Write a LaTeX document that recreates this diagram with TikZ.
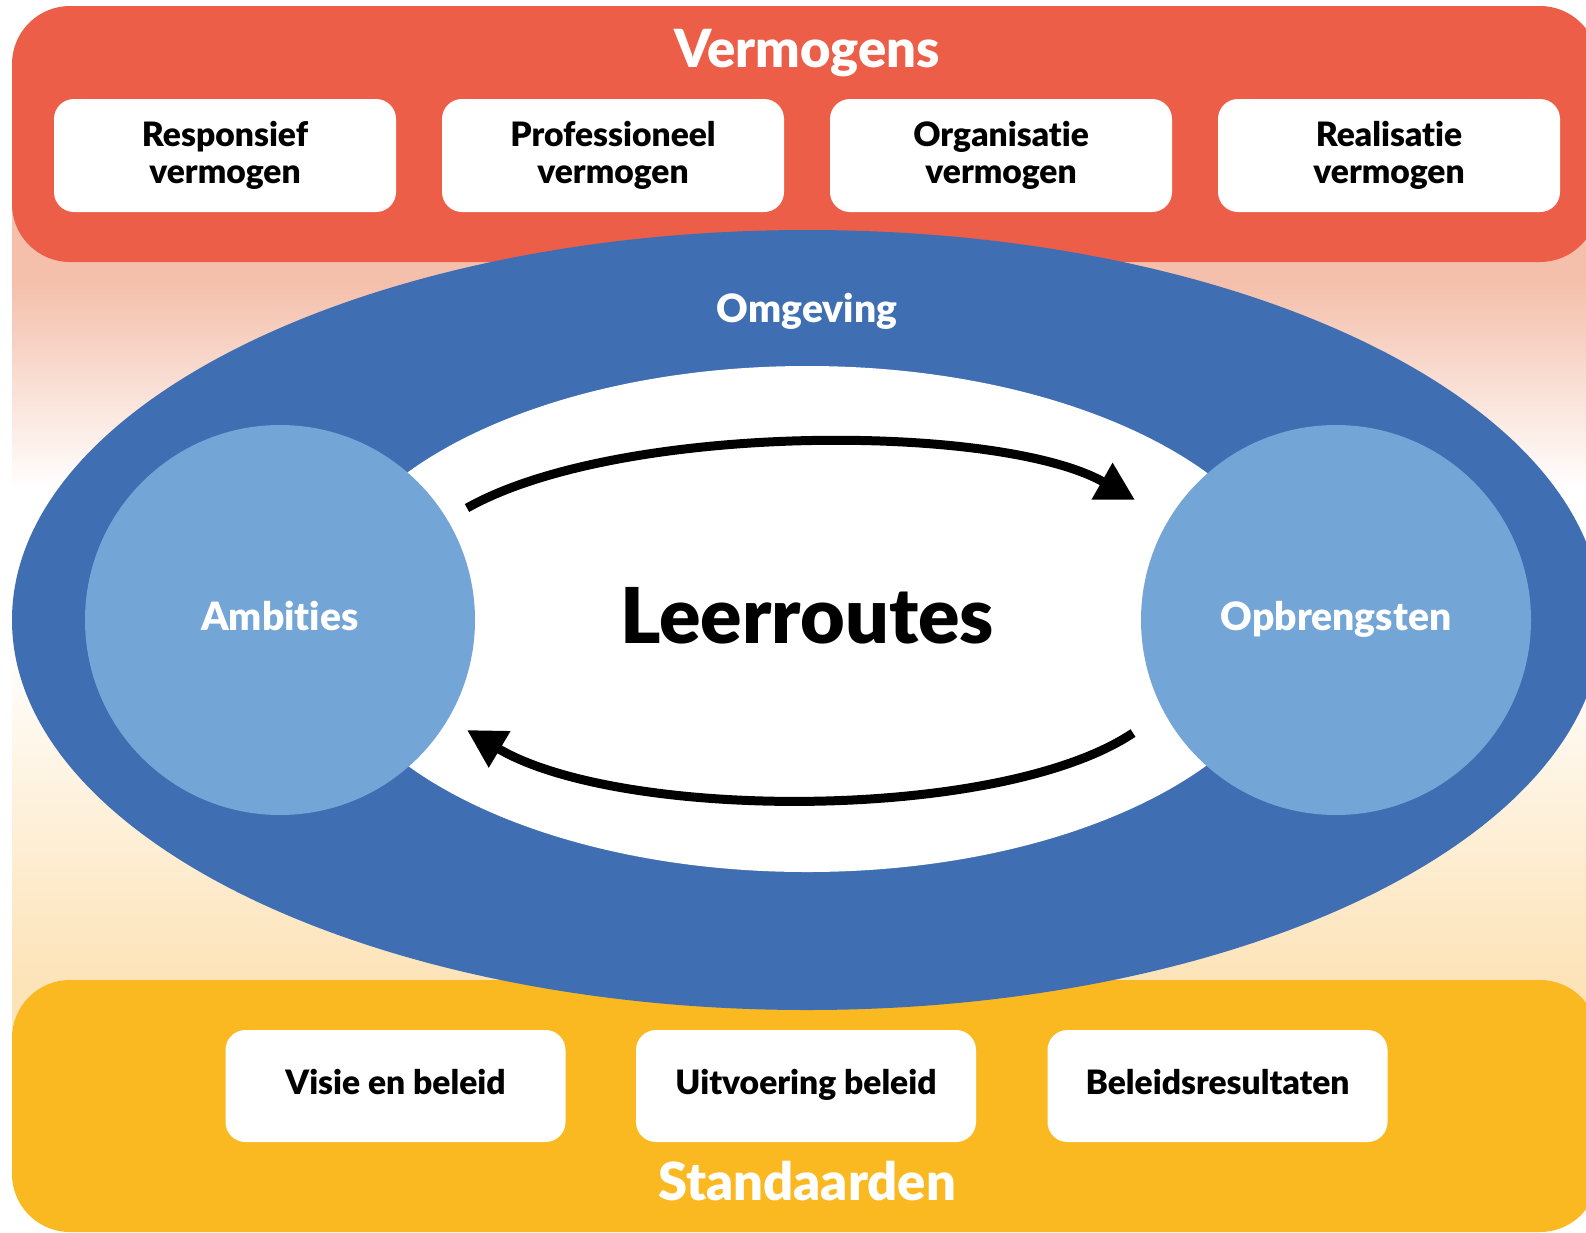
\documentclass[tikz,border=0pt]{standalone}
\usepackage{fontspec}
\setmainfont{Lato}[BoldFont={Lato Black}, Ligatures=NoCommon]
\usetikzlibrary{arrows.meta,shapes.geometric}
\definecolor{vred}{HTML}{ED5E49}
\definecolor{vblue}{HTML}{3F6EB3}
\definecolor{lblue}{HTML}{74A5D7}
\definecolor{vyellow}{HTML}{FBB921}
\definecolor{pinkbg}{HTML}{F4C0AC}
\definecolor{creambg}{HTML}{FDE3B8}
\tikzset{
  band/.style={rounded corners=58pt, inner sep=0pt},
  wbox/.style={fill=white, rounded corners=20pt, minimum width=342pt, minimum height=113pt,
    inner sep=0pt, align=center, font=\bfseries\fontsize{33.6}{37}\selectfont},
  sbox/.style={wbox, minimum width=340pt, minimum height=112pt, text height=16pt, text depth=0pt},
  title/.style={text=white, font=\bfseries\fontsize{52.5}{60}\selectfont, anchor=base, inner sep=0pt},
  circ/.style={circle, fill=lblue, minimum size=390pt, inner sep=0pt, text=white,
    font=\bfseries\fontsize{39}{45}\selectfont, text height=20pt, text depth=0pt},
  flow/.style={line width=9pt, -{Triangle[length=38pt,width=40pt]}},
}
\begin{document}
\begin{tikzpicture}[x=1pt,y=-1pt]
\useasboundingbox (0,0) rectangle (1586,1232);
\fill[white] (0,0) rectangle (1586,1232);
% background gradient
\fill[pinkbg] (12,200) rectangle (1600,285);
\shade[top color=pinkbg, bottom color=white] (12,284) rectangle (1600,490);
\shade[top color=white, bottom color=creambg] (12,640) rectangle (1600,981);
\fill[creambg] (12,980) rectangle (1600,1040);
% bands
\node[band, fill=vred, minimum width=1586pt, minimum height=256pt] (vband) at (805,134) {};
\node[band, fill=vyellow, minimum width=1586pt, minimum height=252pt] (sband) at (805,1106) {};
% top boxes
\node[wbox] (b1) at (225,155.5) {Responsief\\vermogen};
\node[wbox] (b2) at (613,155.5) {Professioneel\\vermogen};
\node[wbox] (b3) at (1001,155.5) {Organisatie\\vermogen};
\node[wbox] (b4) at (1389,155.5) {Realisatie\\vermogen};
% bottom boxes
\node[sbox] (s1) at (395.5,1086) {Visie en beleid};
\node[sbox] (s2) at (806,1086) {Uitvoering beleid};
\node[sbox] (s3) at (1217.5,1086) {Beleidsresultaten};
% titles
\node[title] (tverm) at (807,67) {Vermogens};
\node[title] (tstand) at (807,1200) {Standaarden};
% ellipses
\node[ellipse, fill=vblue, minimum width=1590pt, minimum height=780pt, inner sep=0pt] (omg) at (807,620) {};
\node[ellipse, fill=white, minimum width=980pt, minimum height=506pt, inner sep=0pt] (inner) at (807,619) {};
\node[text=white, font=\bfseries\fontsize{39}{45}\selectfont, anchor=base, inner sep=0pt] (tomg) at (807,322) {Omgeving};
% circles
\node[circ] (amb) at (280,620) {Ambities};
\node[circ] (opb) at (1336,620) {Opbrengsten};
% center text
\node[font=\bfseries\fontsize{77}{90}\selectfont, anchor=base, inner sep=0pt] (leer) at (807,643) {Leerroutes};
% arrows
\coordinate (t1) at (467,508);
\coordinate (t2) at (1135,500);
\coordinate (u1) at (1133,733);
\coordinate (u2) at (467,730);
\draw[flow] (t1) .. controls (620,422) and (1000,423) .. (t2);
\draw[flow] (u1) .. controls (1000,822) and (620,821) .. (u2);
\end{tikzpicture}
\end{document}
